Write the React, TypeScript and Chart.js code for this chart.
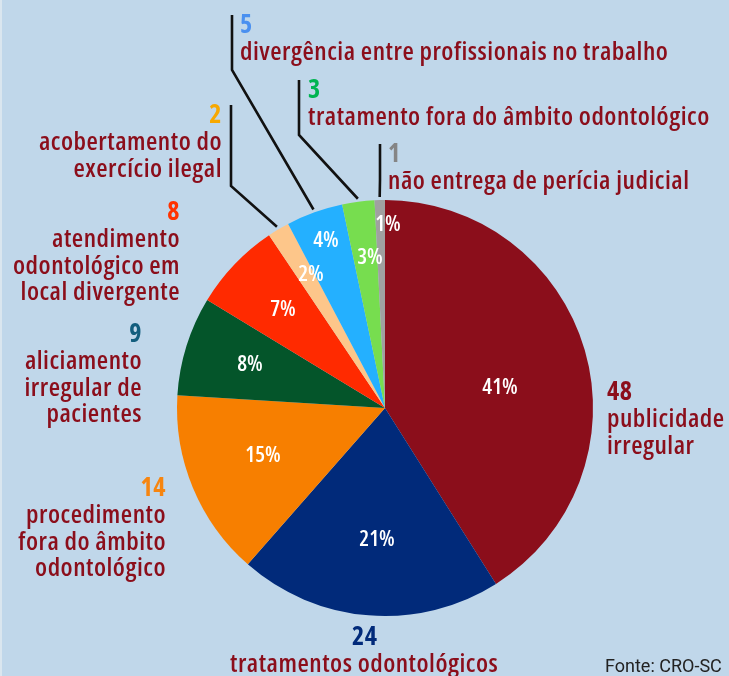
import React, { useEffect, useRef } from "react";
import { Chart, PieController, ArcElement } from "chart.js";

Chart.register(PieController, ArcElement);

// ---------- data ----------
const categories = [
  "publicidade irregular",
  "tratamentos odontológicos",
  "procedimento fora do âmbito odontológico",
  "aliciamento irregular de pacientes",
  "atendimento odontológico em local divergente",
  "acobertamento do exercício ilegal",
  "divergência entre profissionais no trabalho",
  "tratamento fora do âmbito odontológico",
  "não entrega de perícia judicial",
];
const counts = [48, 24, 14, 9, 8, 2, 5, 3, 1];
const percentLabels = ["41%", "21%", "15%", "8%", "7%", "2%", "4%", "3%", "1%"];
// slice shares as drawn in the picture (in %)
const sliceShares = [41.0, 20.4, 14.5, 7.7, 6.9, 1.7, 4.4, 2.5, 0.8];
const source = "Fonte: CRO-SC";

// ---------- styles / layout ----------
const sliceColors = ["#8b0e1b", "#012a7a", "#f77f00", "#04552a", "#ff2a00", "#fdc68a", "#24b0ff", "#77dd4f", "#a0a0a0"];
const countColors = ["#8b0e1b", "#012a7a", "#f7850f", "#135e7e", "#ff3300", "#f7a800", "#4a90f0", "#00b451", "#858585"];
const textColor = "#8b0e1b";
const BG = "#c0d7ea";

type LabelLayout = {
  lines: string[];
  x: number;
  y: number; // baseline of count
  align: CanvasTextAlign;
  countX?: number;
  leader?: { knee: [number, number]; top: [number, number] };
};

const labelLayout: LabelLayout[] = [
  { lines: ["publicidade", "irregular"], x: 607, y: 400, align: "left" },
  { lines: ["tratamentos odontológicos"], x: 230, y: 645, align: "left", countX: 352 },
  { lines: ["procedimento", "fora do âmbito", "odontológico"], x: 166, y: 496, align: "right" },
  { lines: ["aliciamento", "irregular de", "pacientes"], x: 142, y: 342, align: "right" },
  { lines: ["atendimento", "odontológico em", "local divergente"], x: 180, y: 220, align: "right" },
  { lines: ["acobertamento do", "exercício ilegal"], x: 222, y: 123, align: "right", leader: { knee: [231, 186], top: [231, 105] } },
  { lines: ["divergência entre profissionais no trabalho"], x: 240, y: 33, align: "left", leader: { knee: [232, 70], top: [232, 15] } },
  { lines: ["tratamento fora do âmbito odontológico"], x: 308, y: 98, align: "left", leader: { knee: [299, 135], top: [299, 80] } },
  { lines: ["não entrega de perícia judicial"], x: 388, y: 162, align: "left", leader: { knee: [380, 180], top: [380, 144] } },
];

const percentOffsets: [number, number][] = [
  [115, -20], [-8, 132], [-122, 48], [-135, -43], [-102, -98], [-74, -133], [-59, -167], [-15, -150], [3, -183],
];

const FONT_FAMILY = "'Open Sans', 'DejaVu Sans', sans-serif";

function setFont(ctx: any, weight: number, size: number, stretch = "condensed", spacing = "0px") {
  ctx.font = `${weight} ${size}px ${FONT_FAMILY}`;
  try {
    ctx.fontStretch = stretch;
    ctx.letterSpacing = spacing;
  } catch (e) {}
}

const labelsPlugin = {
  id: "labelsPlugin",
  beforeDraw(chart: any) {
    const ctx = chart.ctx;
    ctx.save();
    ctx.fillStyle = BG;
    ctx.fillRect(0, 0, chart.width, chart.height);
    ctx.fillStyle = "#dae6ef";
    ctx.fillRect(0, 0, 2, chart.height);
    ctx.restore();
  },
  afterDraw(chart: any) {
    const ctx = chart.ctx as CanvasRenderingContext2D;
    const meta = chart.getDatasetMeta(0);
    ctx.save();
    // percent labels
    ctx.textAlign = "center";
    ctx.textBaseline = "middle";
    ctx.fillStyle = "#ffffff";
    setFont(ctx, 600, 22);
    meta.data.forEach((arc: any, i: number) => {
      const [dx, dy] = percentOffsets[i];
      ctx.fillText(percentLabels[i], arc.x + dx, arc.y + dy);
    });

    // leader lines
    ctx.strokeStyle = "#111111";
    ctx.lineWidth = 2.6;
    ctx.lineJoin = "miter";
    meta.data.forEach((arc: any, i: number) => {
      const lay = labelLayout[i];
      if (!lay.leader) return;
      const mid = (arc.startAngle + arc.endAngle) / 2;
      const r = arc.outerRadius + 3;
      const ex = arc.x + Math.cos(mid) * r;
      const ey = arc.y + Math.sin(mid) * r;
      ctx.beginPath();
      ctx.moveTo(ex, ey);
      ctx.lineTo(lay.leader.knee[0], lay.leader.knee[1]);
      ctx.lineTo(lay.leader.top[0], lay.leader.top[1]);
      ctx.stroke();
    });

    // category labels
    ctx.textBaseline = "alphabetic";
    labelLayout.forEach((lay, i) => {
      ctx.textAlign = lay.align;
      setFont(ctx, 700, 26, "condensed", "0.5px");
      ctx.fillStyle = countColors[i];
      ctx.fillText(String(counts[i]), lay.countX ?? lay.x, lay.y);
      ctx.fillStyle = textColor;
      setFont(ctx, 600, 26, "condensed", "0.5px");
      lay.lines.forEach((ln, j) => {
        ctx.fillText(ln, lay.x, lay.y + 27 + j * 26.7);
      });
    });

    // source
    ctx.textAlign = "left";
    ctx.fillStyle = "#222222";
    ctx.font = "400 18px Roboto, 'DejaVu Sans', sans-serif";
    try {
      (ctx as any).fontStretch = "normal";
      (ctx as any).letterSpacing = "0px";
    } catch (e) {}
    ctx.fillText(source, 605, 672);
    ctx.restore();
  },
};

export default function App() {
  const ref = useRef<HTMLCanvasElement | null>(null);
  useEffect(() => {
    document.body.style.margin = "0";
    const canvas = ref.current!;
    const chart = new Chart(canvas, {
      type: "pie",
      data: {
        labels: categories,
        datasets: [
          {
            data: sliceShares,
            backgroundColor: sliceColors,
            borderWidth: 0,
          },
        ],
      },
      options: {
        responsive: false,
        animation: false,
        layout: { padding: { left: 177, right: 136, top: 200, bottom: 60 } },
        plugins: { legend: { display: false }, tooltip: { enabled: false } },
        events: [],
      },
      plugins: [labelsPlugin],
    });
    return () => chart.destroy();
  }, []);
  return (
    <div style={{ position: "fixed", left: 0, top: 0, width: 729, height: 676, background: BG }}>
      <canvas ref={ref} width={729} height={676} style={{ width: 729, height: 676, display: "block" }} />
    </div>
  );
}
